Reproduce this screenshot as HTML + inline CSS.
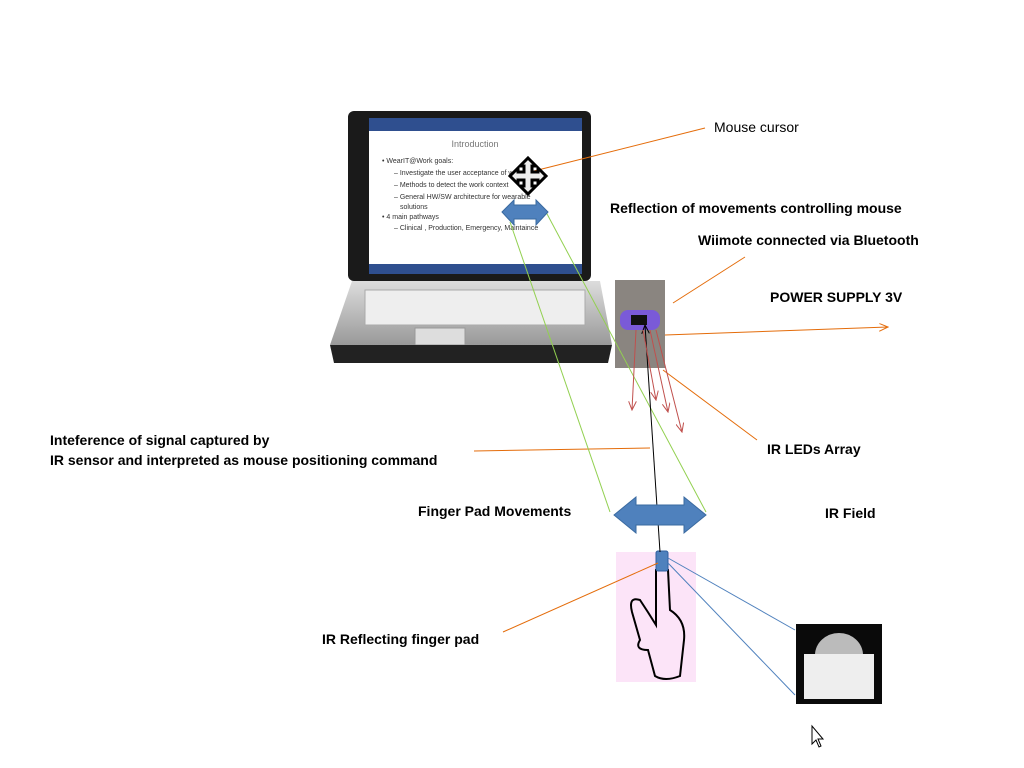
<!DOCTYPE html>
<html><head><style>
body{margin:0;background:#fff;width:1024px;height:768px;overflow:hidden}
svg{display:block}
text{font-family:"Liberation Sans",sans-serif}
.b{font-weight:bold;font-size:14px;fill:#000}
</style></head><body>
<svg width="1024" height="768" viewBox="0 0 1024 768">
<defs>
<marker id="ao" markerWidth="10" markerHeight="8" refX="9" refY="4" orient="auto"><path d="M0,0 L9,4 L0,8" fill="none" stroke="#e46c0a" stroke-width="1"/></marker>
<marker id="ar" markerWidth="10" markerHeight="8" refX="9" refY="4" orient="auto"><path d="M0,0 L9,4 L0,8" fill="none" stroke="#c0504d" stroke-width="1"/></marker>
<marker id="ak" markerWidth="10" markerHeight="8" refX="9" refY="4" orient="auto"><path d="M0,0 L9,4 L0,8" fill="none" stroke="#000" stroke-width="1"/></marker>
<linearGradient id="sil" x1="0" y1="0" x2="0" y2="1"><stop offset="0" stop-color="#ddd"/><stop offset="1" stop-color="#999"/></linearGradient>
</defs>
<!-- laptop -->
<rect x="348" y="111" width="243" height="170" rx="6" fill="#1a1a1a"/>
<rect x="369" y="118" width="213" height="156" fill="#fff"/>
<rect x="369" y="118" width="213" height="13" fill="#2f4f8f"/>
<rect x="369" y="264" width="213" height="10" fill="#2f4f8f"/>
<text x="475" y="147" font-size="9" fill="#777" text-anchor="middle">Introduction</text>
<g font-size="7" fill="#333">
<text x="382" y="163">• WearIT@Work goals:</text>
<text x="394" y="175">– Investigate the user acceptance of wearables</text>
<text x="394" y="187">– Methods  to detect the work context</text>
<text x="394" y="199">– General HW/SW architecture for wearable</text>
<text x="400" y="209">solutions</text>
<text x="382" y="219">• 4 main pathways</text>
<text x="394" y="230">– Clinical , Production, Emergency, Maintaince</text>
</g>
<path d="M352,281 L600,281 L612,345 L330,345 Z" fill="url(#sil)"/>
<rect x="365" y="290" width="220" height="35" fill="#eee" stroke="#aaa"/>
<rect x="415" y="328" width="50" height="17" fill="#ddd" stroke="#999"/>
<path d="M330,345 L612,345 L608,363 L334,363 Z" fill="#222"/>
<!-- wiimote photo -->
<rect x="615" y="280" width="50" height="88" fill="#8a8580"/>
<rect x="620" y="310" width="40" height="20" rx="8" fill="#7a5ad8"/>
<rect x="631" y="315" width="16" height="10" fill="#111"/>
<!-- sensor photo -->
<rect x="796" y="624" width="86" height="80" fill="#0a0a0a"/>
<path d="M815,655 A24,22 0 0 1 863,655 Z" fill="#bbb"/>
<rect x="804" y="654" width="70" height="45" fill="#eee"/>
<!-- pink -->
<rect x="616" y="552" width="80" height="130" fill="#fce4f8"/>
<path d="M656,570 L656,625 Q648,612 640,600 Q628,596 632,612 L640,640 Q634,650 648,650 L655,676 Q665,682 680,676 L684,640 Q686,620 670,610 L668,570 Z" fill="none" stroke="#000" stroke-width="2"/>
<rect x="656" y="551" width="12" height="20" rx="2" fill="#4f81bd" stroke="#2f5f9f"/>
<!-- lines -->
<g stroke-width="1" fill="none">
<line x1="530" y1="172" x2="705" y2="128" stroke="#e46c0a"/>
<line x1="673" y1="303" x2="745" y2="257" stroke="#e46c0a"/>
<line x1="665" y1="335" x2="888" y2="327" stroke="#e46c0a" marker-end="url(#ao)"/>
<line x1="663" y1="370" x2="757" y2="440" stroke="#e46c0a"/>
<line x1="474" y1="451" x2="650" y2="448" stroke="#e46c0a"/>
<line x1="503" y1="632" x2="658" y2="563" stroke="#e46c0a"/>
<line x1="510" y1="222" x2="610" y2="512" stroke="#92d050"/>
<line x1="546" y1="212" x2="706" y2="512" stroke="#92d050"/>
<line x1="660" y1="552" x2="645" y2="325" stroke="#000" marker-end="url(#ak)"/>
<line x1="636" y1="330" x2="632" y2="410" stroke="#c0504d" marker-end="url(#ar)"/>
<line x1="643" y1="330" x2="656" y2="400" stroke="#c0504d" marker-end="url(#ar)"/>
<line x1="650" y1="330" x2="668" y2="412" stroke="#c0504d" marker-end="url(#ar)"/>
<line x1="656" y1="330" x2="682" y2="432" stroke="#c0504d" marker-end="url(#ar)"/>
<line x1="668" y1="558" x2="795" y2="630" stroke="#4f81bd"/>
<line x1="668" y1="563" x2="795" y2="695" stroke="#4f81bd"/>
</g>
<!-- arrows -->
<path d="M502,212 L514,200 L514,205 L536,205 L536,200 L548,212 L536,225 L536,219 L514,219 L514,225 Z" fill="#4f81bd" stroke="#3a6aa0"/>
<path d="M614,515 L636,497 L636,505 L684,505 L684,497 L706,515 L684,533 L684,525 L636,525 L636,533 Z" fill="#4f81bd" stroke="#3a6aa0"/>
<!-- move cursor -->
<path d="M528,158 L536,166 L532,166 L532,172 L538,172 L538,168 L546,176 L538,184 L538,180 L532,180 L532,186 L536,186 L528,194 L520,186 L524,186 L524,180 L518,180 L518,184 L510,176 L518,168 L518,172 L524,172 L524,166 L520,166 Z" fill="#eee" stroke="#000" stroke-width="3"/>
<!-- mouse pointer -->
<path d="M812,726 L812,744 L816,740 L819,747 L821,746 L818,739 L823,739 Z" fill="#fff" stroke="#000"/>
<!-- text -->
<text x="714" y="132" font-size="14">Mouse cursor</text>
<text x="610" y="213" class="b">Reflection of movements  controlling mouse</text>
<text x="698" y="245" class="b">Wiimote connected via Bluetooth</text>
<text x="770" y="302" class="b" font-size="15">POWER SUPPLY  3V</text>
<text x="767" y="454" class="b">IR LEDs Array</text>
<text x="50" y="445" class="b">Inteference  of signal captured by</text>
<text x="50" y="465" class="b">IR sensor and interpreted as mouse positioning  command</text>
<text x="418" y="516" class="b">Finger Pad Movements</text>
<text x="825" y="518" class="b">IR Field</text>
<text x="322" y="644" class="b">IR Reflecting finger pad</text>
</svg>
</body></html>
